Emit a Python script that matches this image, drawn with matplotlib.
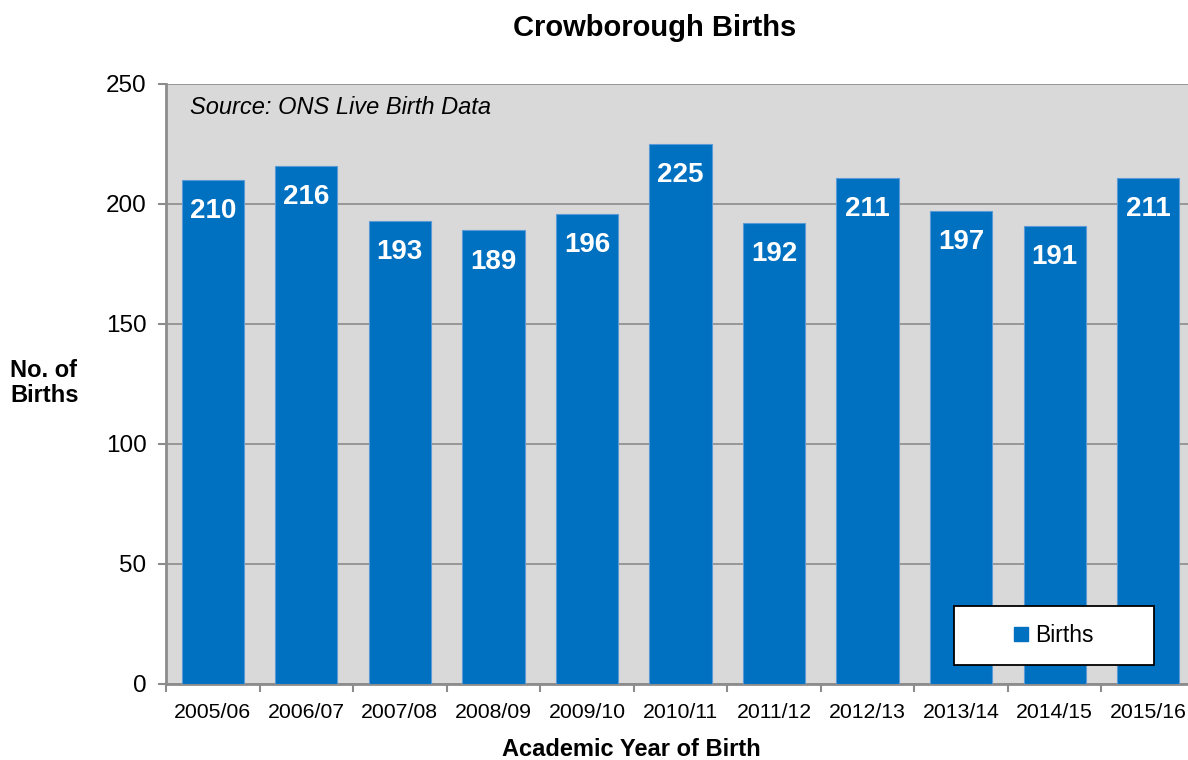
import matplotlib.pyplot as plt
from matplotlib.patches import Patch, Rectangle

plt.rcParams['font.family'] = ['Liberation Sans', 'DejaVu Sans']

years = ["2005/06", "2006/07", "2007/08", "2008/09", "2009/10", "2010/11",
         "2011/12", "2012/13", "2013/14", "2014/15", "2015/16"]
births = [210, 216, 193, 189, 196, 225, 192, 211, 197, 191, 211]
y_ticks = [0, 50, 100, 150, 200, 250]

bar_col = "#0070c0"
axis_col = "#8c8c8c"

W, H = 1188, 760
fig = plt.figure(figsize=(W / 100, H / 100), dpi=100)
ax_w = 1029
ax = fig.add_axes([166 / W, 76 / H, ax_w / W, 600 / H])
ax.set_facecolor("#d9d9d9")

x = list(range(len(years)))
bars = ax.bar(x, births, width=0.665, color=bar_col, edgecolor="#5a9ad6",
              linewidth=0.8, zorder=3, label="Births")

for b, v in zip(bars, births):
    ax.annotate(str(v), (b.get_x() + b.get_width() / 2, v), xytext=(0, -22.5),
                textcoords="offset points", ha="center", va="center",
                color="white", fontsize=20, fontweight="bold", zorder=4)

ax.set_xlim(-0.5, len(years) - 0.5)
ax.set_ylim(0, 250)
ax.set_yticks(y_ticks)
ax.yaxis.grid(True, color=axis_col, linewidth=1.2, zorder=1)
ax.tick_params(axis="y", labelsize=17.5, length=6, color=axis_col, width=1.5, pad=8)

# category labels centred, ticks on the boundaries between them
ax.set_xticks(x)
ax.set_xticklabels(years, fontsize=15.3)
ax.tick_params(axis="x", length=0, pad=14)
ax.set_xticks([i - 0.5 for i in range(len(years) + 1)], minor=True)
ax.tick_params(axis="x", which="minor", length=6, color=axis_col, width=1.5)

for s in ["top", "right"]:
    ax.spines[s].set_visible(False)
for s in ["left", "bottom"]:
    ax.spines[s].set_color(axis_col)
    ax.spines[s].set_linewidth(2)

ax.text(24 / ax_w, 0.96, "Source: ONS Live Birth Data", transform=ax.transAxes,
        fontsize=17, style="italic", ha="left", va="center")

# legend box: white frame with the entry centred inside
lx, ly, lw, lh = (954 - 166) / ax_w, 19 / 600, 200 / ax_w, 59 / 600
ax.add_patch(Rectangle((lx, ly), lw, lh, transform=ax.transAxes, facecolor="white",
                       edgecolor="black", linewidth=1.3, zorder=5))
leg = ax.legend(handles=[Patch(color=bar_col, label="Births")], loc="center",
                bbox_to_anchor=(lx + lw / 2, ly + lh / 2), frameon=False,
                fontsize=16.5, handlelength=0.6, handleheight=0.6,
                handletextpad=0.3, borderpad=0)
leg.set_zorder(6)

fig.text(655 / W, 1 - 28 / H, "Crowborough Births", ha="center", va="center",
         fontsize=21, fontweight="bold")
fig.text(10 / W, 1 - 383 / H, "No. of\nBirths", ha="left", va="center",
         fontsize=17, fontweight="bold", linespacing=1.1)
fig.text(631 / W, 1 - 750 / H, "Academic Year of Birth", ha="center",
         va="center", fontsize=17, fontweight="bold")

fig.savefig("out.png", dpi=100)
